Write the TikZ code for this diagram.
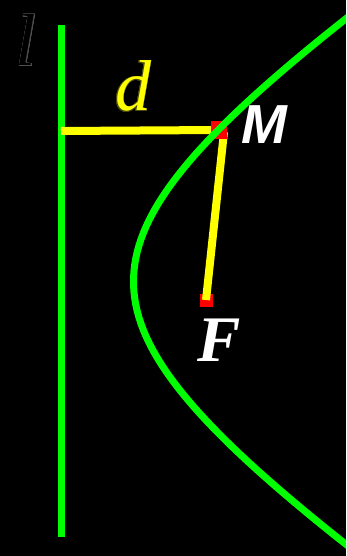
\documentclass[tikz,border=0pt]{standalone}
\usepackage{fontspec}
\usepackage[copies]{contour}
\newfontfamily\timesfont{Liberation Serif}
\newfontfamily\arialfont{Liberation Sans}
\definecolor{pgreen}{HTML}{00FF00}
\definecolor{pyellow}{HTML}{FFFF00}
\definecolor{pred}{HTML}{FF0000}
\definecolor{lgray}{HTML}{505050}
\definecolor{dolive}{HTML}{4A4A10}
\contourlength{0.7pt}
\tikzset{
  pline/.style={pgreen, line width=7pt},
  yseg/.style={pyellow, line width=8pt},
  pdot/.style={rectangle, fill=pred, inner sep=0pt},
  plbl/.style={inner sep=0pt, anchor=base},
}

\begin{document}
\begin{tikzpicture}[x=1pt,y=-1pt]

  \fill[black] (0,0) rectangle (346,556);
  \useasboundingbox (0,0) rectangle (346,556);
  \clip (0,0) rectangle (346,556);

  % directrix
  \coordinate (ltop) at (61,25);
  \coordinate (lbot) at (61,537);
  \draw[pline] (ltop) -- (lbot);

  % points
  \node[pdot, minimum size=13pt] (F) at (206,300) {};
  \coordinate (M0) at (219,130);
  \coordinate (P) at (61,131);
  \coordinate (Mr) at (224,132);

  % distances
  \draw[yseg] (P) -- (M0);
  \draw[yseg] (Mr) -- (F.center);
  \node[pdot, minimum width=16pt, minimum height=18pt] (M) at (M0) {};

  % the curve
  \draw[pline] plot[domain=-290:290, samples=90, variable=\t]
       ({133.5+276*(sqrt(1+(\t/180)^2)-1)}, {281.5+\t});

  % labels
  \node[plbl] (lname) at (26,66)
       {\fontsize{74}{74}\selectfont\timesfont\itshape\contour{lgray}{l}};
  \node[plbl] (dname) at (133,111)
       {\fontsize{72}{72}\selectfont\timesfont\itshape\contour{dolive}{\textcolor{pyellow}{d}}};
  \node[plbl, white] (Mname) at (264,144)
       {\fontsize{55}{55}\selectfont\arialfont\bfseries\itshape M};
  \node[plbl, white] (Fname) at (219,361)
       {\fontsize{65}{65}\selectfont\timesfont\bfseries\itshape F};

\end{tikzpicture}
\end{document}
